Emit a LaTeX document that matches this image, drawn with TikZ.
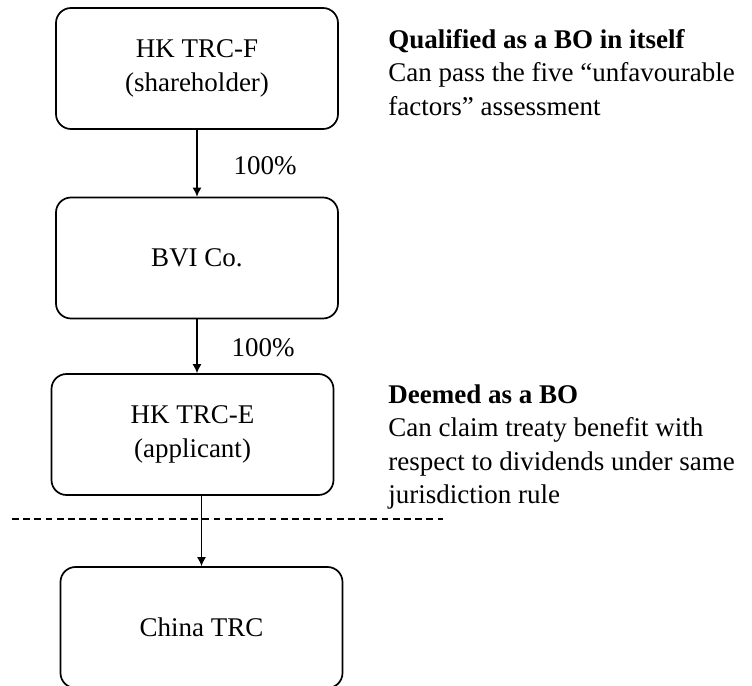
\documentclass[tikz,border=0pt]{standalone}
\usepackage{fontspec}
\setmainfont{Liberation Serif}
\usetikzlibrary{arrows.meta}

\begin{document}
\begin{tikzpicture}[x=0.5pt,y=-0.5pt,
  entity/.style={draw, line width=0.85pt, rounded corners=7.5pt, align=center,
    minimum width=141pt, minimum height=60.5pt, inner sep=0pt,
    font=\fontsize{13.5}{17}\selectfont},
  arr/.style={line width=0.65pt, -{Latex[length=4.5pt,width=4.5pt]}},
  share/.style={font=\fontsize{13.5}{16.9}\selectfont},
  note/.style={anchor=north west, align=left, inner sep=0pt,
    font=\fontsize{13.5}{16.75}\selectfont}]
\useasboundingbox (0,0) rectangle (752,686);
\node[entity] (F) at (197,68.5) {HK TRC-F\\(shareholder)};
\node[entity] (BVI) at (197,258) {BVI Co.};
\node[entity] (E) at (192.5,434.5) {HK TRC-E\\(applicant)};
\node[entity] (CN) at (201.5,627.5) {China TRC};
\draw[arr] (F.south) -- (BVI.north);
\draw[arr] (BVI.south) -- (BVI.south |- E.north);
\draw[arr] (CN.north |- E.south) -- (CN.north);
\node[share] (s1) at (265,166) {100\%};
\node[share] (s2) at (263,348) {100\%};
% border line
\coordinate (dl) at (12,519);
\coordinate (dr) at (443,519);
\draw[line width=0.55pt, dash pattern=on 3.4pt off 2.2pt] (dl) -- (dr);
% notes
\node[note] (nF) at (388,29) {\textbf{Qualified as a BO in itself}\\
  Can pass the five “unfavourable\\factors” assessment};
\node[note] (nE) at (388,384) {\textbf{Deemed as a BO}\\
  Can claim treaty benefit with\\respect to dividends under same\\jurisdiction rule};
\end{tikzpicture}
\end{document}
